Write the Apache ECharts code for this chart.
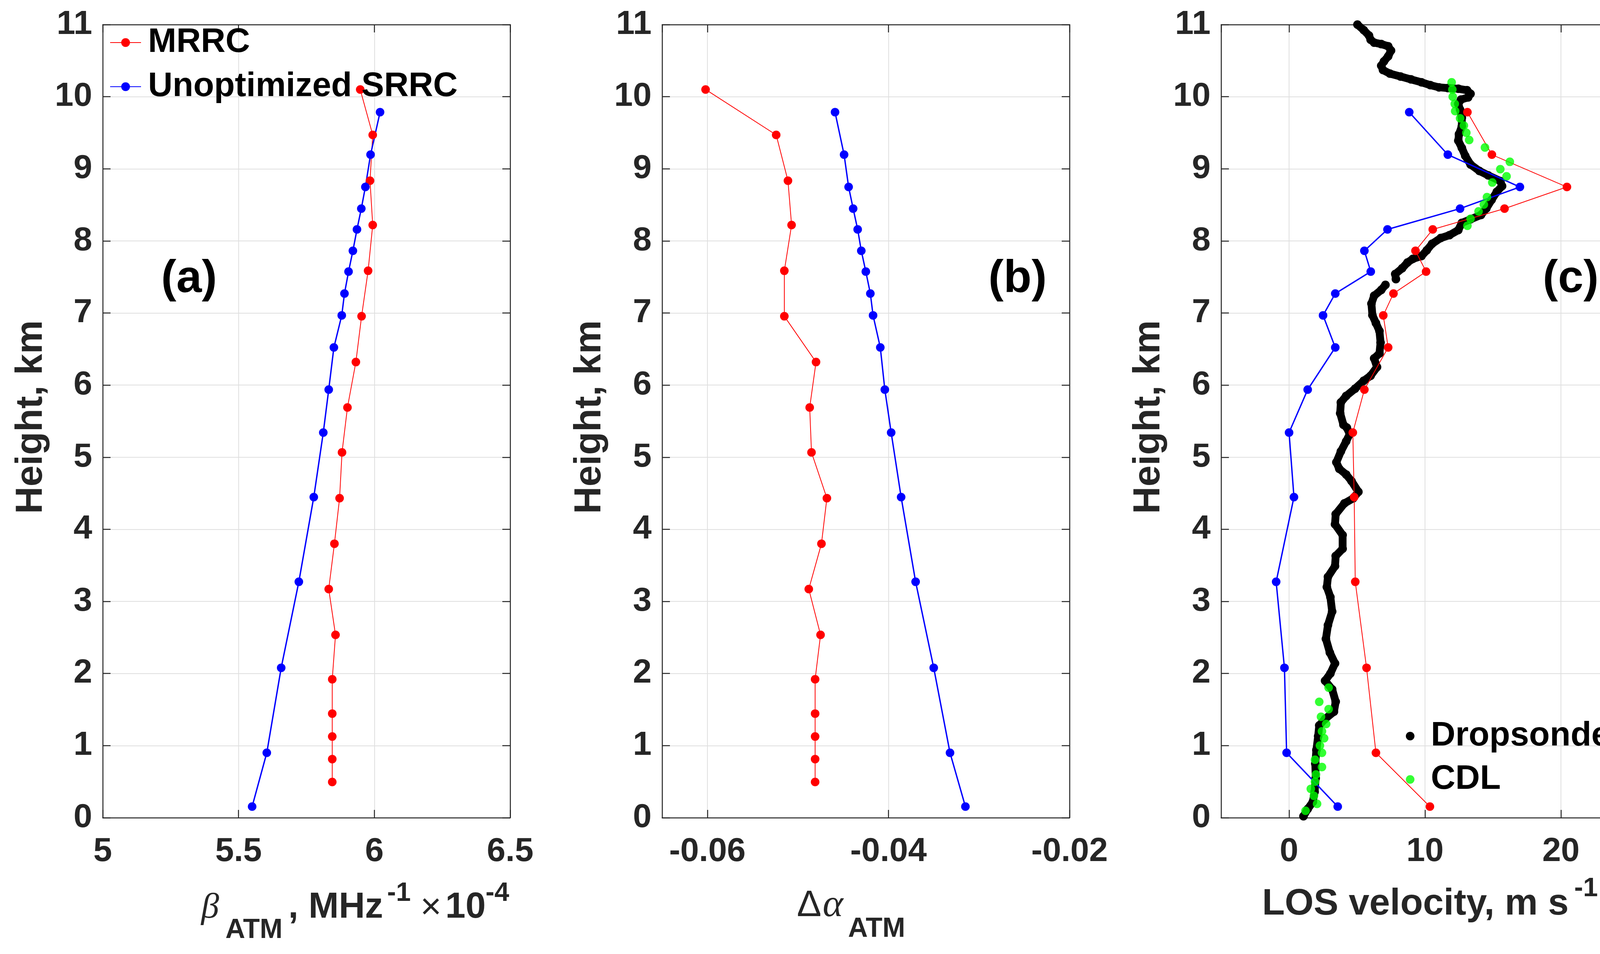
<!DOCTYPE html>
<html>
<head>
<meta charset="utf-8">
<script src="https://cdn.jsdelivr.net/npm/echarts@6/dist/echarts.min.js"></script>
<style>
html,body{margin:0;padding:0;background:#fff;}
#chart{width:4207px;height:2443px;}
</style>
</head>
<body>
<div id="chart"></div>
<script>
// ---------------- DATA ----------------
// Panel (a)/(b) MRRC heights (km)
const hMRRC = [10.10, 9.47, 8.835, 8.22, 7.586, 6.955, 6.32, 5.69, 5.067, 4.432, 3.80, 3.171, 2.536, 1.92, 1.444, 1.126, 0.813, 0.496];
const betaMRRC = [5.948, 5.994, 5.984, 5.994, 5.977, 5.953, 5.932, 5.901, 5.881, 5.872, 5.853, 5.832, 5.857, 5.845, 5.845, 5.845, 5.845, 5.845];
const alphaMRRC = [-0.0602, -0.0524, -0.0511, -0.0507, -0.0515, -0.0515, -0.0480, -0.0487, -0.0485, -0.0468, -0.0474, -0.0488, -0.0475, -0.0481, -0.0481, -0.0481, -0.0481, -0.0481];

// SRRC heights (km), also used for panel (c) retrievals
const hSRRC = [9.785, 9.196, 8.748, 8.448, 8.159, 7.863, 7.574, 7.27, 6.967, 6.522, 5.937, 5.342, 4.447, 3.272, 2.079, 0.90, 0.154];
const betaSRRC = [6.021, 5.986, 5.967, 5.952, 5.936, 5.921, 5.905, 5.890, 5.880, 5.851, 5.832, 5.812, 5.777, 5.722, 5.657, 5.604, 5.550];
const alphaSRRC = [-0.0459, -0.0449, -0.0444, -0.0439, -0.0434, -0.0430, -0.0425, -0.0420, -0.0417, -0.0409, -0.0404, -0.0397, -0.0386, -0.0370, -0.0350, -0.0332, -0.0315];

// Panel (c) LOS velocity (m/s)
const losMRRC = [13.12, 14.92, 20.44, 15.85, 10.57, 9.30, 10.08, 7.68, 6.93, 7.29, 5.54, 4.69, 4.79, 4.87, 5.70, 6.39, 10.36];
const losSRRC = [8.84, 11.68, 16.98, 12.58, 7.24, 5.54, 6.01, 3.40, 2.50, 3.40, 1.37, 0.00, 0.36, -0.95, -0.34, -0.18, 3.58];

const cdlH = [10.20, 10.10, 10.00, 9.90, 9.80, 9.70, 9.60, 9.50, 9.40, 9.295, 9.097, 8.995, 8.896, 8.81, 8.607, 8.505, 8.41, 8.307, 8.21,
              1.804, 1.607, 1.506, 1.40, 1.30, 1.198, 1.102, 1.00, 0.90, 0.804, 0.703, 0.60, 0.50, 0.40, 0.303, 0.192, 0.096];
const cdlV = [11.96, 12.01, 12.04, 12.19, 12.22, 12.58, 12.86, 13.04, 13.25, 14.41, 16.24, 15.54, 16.00, 14.95, 14.56, 14.33, 13.94, 13.35, 13.12,
              2.91, 2.22, 2.91, 2.35, 2.73, 2.42, 2.58, 2.27, 2.42, 1.91, 2.42, 1.98, 1.91, 1.60, 1.83, 2.06, 1.21];

// Dropsonde profile (null = gap in the record)
const dsH = [11.0, 10.924, 10.848, 10.79, 10.75, 10.73, 10.70, 10.64, 10.56, 10.49, 10.43, 10.37, 10.32, 10.28, 10.24, 10.20, 10.16, 10.13, 10.12, 10.11,
  10.09, 10.04, 9.99, 9.96, 9.90, 9.82, 9.71, 9.59, 9.48, 9.39, 9.29, 9.18, 9.06, 8.97, 8.91, 8.83, 8.76, 8.68, 8.57, 8.45,
  8.36, 8.30, 8.25, 8.15, 8.08, 8.04, 7.96, 7.87, 7.79, 7.75, 7.70, 7.62, 7.54, 7.47, null,
  7.39, 7.32, 7.24, 7.13, 6.97, 6.86, 6.75, 6.59, 6.44, 6.37, 6.25, 6.13, 6.06, 5.95, 5.85, 5.76, 5.61, 5.45,
  5.41, 5.32, 5.22, 5.08, 4.93, 4.84, 4.76, 4.67, 4.52, 4.43, 4.36, 4.21, 4.07, 3.92, 3.73, 3.63, 3.49, 3.34, 3.20, 3.06,
  2.86, 2.67, 2.48, 2.29, 2.14, 2.00, 1.90, 1.78, 1.61, 1.47, 1.37, 1.28, 1.13, 0.94, 0.75, 0.55, 0.36, 0.22, 0.12, 0.02];
const dsV = [5.03, 5.49, 5.88, 6.00, 6.26, 6.78, 7.29, 7.50, 7.29, 6.98, 6.78, 6.91, 7.42, 8.20, 8.97, 9.74, 10.39, 11.03, 11.68, 12.45,
  13.09, 13.35, 13.17, 12.65, 12.45, 12.58, 12.71, 12.71, 12.50, 12.45, 12.71, 12.96, 13.35, 14.00, 14.64, 15.54, 15.67, 15.28, 14.90, 14.51,
  14.12, 13.35, 12.71, 12.45, 11.80, 11.16, 10.52, 10.13, 9.74, 9.10, 8.71, 8.32, 7.81, 7.86, null,
  7.09, 6.78, 6.26, 6.06, 6.13, 6.39, 6.65, 6.73, 6.65, 6.26, 6.47, 6.00, 5.49, 4.85, 4.20, 3.81, 3.76, 4.00,
  4.25, 4.46, 4.20, 3.81, 3.48, 3.69, 4.20, 4.59, 5.10, 4.72, 4.07, 3.43, 3.38, 3.94, 3.94, 3.43, 3.38, 2.86, 2.78, 3.04,
  3.17, 2.86, 2.71, 3.00, 3.38, 3.04, 2.65, 3.17, 3.43, 3.30, 2.65, 2.22, 2.14, 2.01, 1.93, 1.96, 1.88, 1.75, 1.37, 1.06];

// Axis tick settings
const heightTicks = {min: 0, max: 11, interval: 1};
const betaRange = {min: 5, max: 6.5, interval: 0.5};
const alphaRange = {min: -0.065, max: -0.02, step: 0.02};
const losRange = {min: -5, max: 25, step: 10};

const panelLabels = ['(a)', '(b)', '(c)'];
const legendA = ['MRRC', 'Unoptimized SRRC'];
const legendC = ['Dropsonde', 'CDL'];

// ---------------- STYLE ----------------
const FONT = '"Liberation Sans", Arial, Helvetica, sans-serif';
const SERIF = '"Liberation Serif", "DejaVu Serif", serif';
const AX = '#262626';
const GRIDC = '#dfdfdf';
const grids = [
  {left: 263, top: 63, width: 1043, height: 2031},
  {left: 1695, top: 63, width: 1043, height: 2031},
  {left: 3126, top: 63, width: 1044, height: 2031}
];

function zip(xs, ys) { return xs.map((x, i) => (x === null || ys[i] === null) ? [null, null] : [x, ys[i]]); }

const lineAx = {show: true, onZero: false, lineStyle: {color: AX, width: 2.5}};
const tickAx = {show: true, inside: true, length: 20, lineStyle: {color: AX, width: 2.5}};
const labAx = {fontSize: 86, fontWeight: 'bold', fontFamily: FONT, color: AX};

const xAxes = [], yAxes = [];
const xr = [betaRange, alphaRange, losRange];
xr.forEach((r, i) => {
  const base = {type: 'value', gridIndex: i, min: r.min, max: r.max};
  if (r.interval) base.interval = r.interval; else { base.minInterval = r.step; base.maxInterval = r.step; base.splitNumber = 3; }
  xAxes.push(Object.assign({}, base, {
    position: 'bottom', axisLine: lineAx, axisTick: tickAx,
    axisLabel: Object.assign({margin: 44, showMinLabel: !!r.interval, showMaxLabel: i !== 2}, labAx),
    splitLine: {show: true, lineStyle: {color: GRIDC, width: 2}}
  }));
  xAxes.push(Object.assign({}, base, {
    position: 'top', axisLine: lineAx, axisTick: tickAx, axisLabel: {show: false}, splitLine: {show: false}
  }));
  yAxes.push({type: 'value', gridIndex: i, position: 'left', min: heightTicks.min, max: heightTicks.max, interval: heightTicks.interval,
    axisLine: lineAx, axisTick: tickAx, axisLabel: Object.assign({margin: 27}, labAx),
    splitLine: {show: true, lineStyle: {color: GRIDC, width: 2}}});
  yAxes.push({type: 'value', gridIndex: i, position: 'right', min: heightTicks.min, max: heightTicks.max, interval: heightTicks.interval,
    axisLine: lineAx, axisTick: tickAx, axisLabel: {show: false}, splitLine: {show: false}});
});

function lineSeries(name, gi, data, color, width) {
  return {name, type: 'line', xAxisIndex: gi * 2, yAxisIndex: gi * 2, data,
    color, symbol: 'circle', symbolSize: 22, showSymbol: true, showAllSymbol: true,
    lineStyle: {color, width}, itemStyle: {color, borderWidth: 0},
    emphasis: {disabled: true}, z: 3};
}

const series = [
  lineSeries('MRRC', 0, zip(betaMRRC, hMRRC), '#ff0000', 2),
  lineSeries('Unoptimized SRRC', 0, zip(betaSRRC, hSRRC), '#0000ff', 3.5),
  lineSeries('MRRC', 1, zip(alphaMRRC, hMRRC), '#ff0000', 2),
  lineSeries('Unoptimized SRRC', 1, zip(alphaSRRC, hSRRC), '#0000ff', 3.5),
  {name: 'Dropsonde', type: 'line', xAxisIndex: 4, yAxisIndex: 4, data: zip(dsV, dsH), color: '#000',
    symbol: 'circle', symbolSize: 22, showSymbol: true, showAllSymbol: true, connectNulls: false,
    lineStyle: {color: '#000', width: 20, cap: 'round', join: 'round'}, itemStyle: {color: '#000', borderWidth: 0},
    emphasis: {disabled: true}, z: 2},
  {name: 'CDL', type: 'scatter', xAxisIndex: 4, yAxisIndex: 4, data: zip(cdlV, cdlH), color: '#00ff00',
    symbol: 'circle', symbolSize: 22, itemStyle: {color: '#00ff00', borderWidth: 0}, emphasis: {disabled: true}, z: 3},
  lineSeries('MRRC', 2, zip(losMRRC, hSRRC), '#ff0000', 2),
  lineSeries('Unoptimized SRRC', 2, zip(losSRRC, hSRRC), '#0000ff', 3.5)
];

function txt(x, y, text, font, opts) {
  return Object.assign({type: 'text', x, y, silent: true, z: 100,
    style: Object.assign({text, font, fill: AX, align: 'left', verticalAlign: 'middle'}, opts || {})});
}
const B = 'bold ';
const graphic = [
  // panel letters
  txt(484, 716, panelLabels[0], B + '117px ' + FONT, {fill: '#000', align: 'center'}),
  txt(2605, 716, panelLabels[1], B + '117px ' + FONT, {fill: '#000', align: 'center'}),
  txt(4021, 716, panelLabels[2], B + '117px ' + FONT, {fill: '#000', align: 'center'}),
  // y titles
  Object.assign(txt(80, 1068, 'Height, km', B + '97px ' + FONT, {align: 'center'}), {rotation: Math.PI / 2}),
  Object.assign(txt(1510, 1068, 'Height, km', B + '97px ' + FONT, {align: 'center'}), {rotation: Math.PI / 2}),
  Object.assign(txt(2941, 1068, 'Height, km', B + '97px ' + FONT, {align: 'center'}), {rotation: Math.PI / 2}),
  // (a) x title: beta_ATM, MHz^-1 x10^-4
  txt(515, 2326, 'β', 'italic 92px ' + SERIF),
  txt(577, 2383, 'ATM', B + '70px ' + FONT),
  txt(738, 2324, ', MHz', B + '93px ' + FONT),
  txt(991, 2288, '-1', B + '68px ' + FONT),
  txt(1076, 2326, '×', '93px ' + FONT),
  txt(1140, 2324, '10', B + '93px ' + FONT),
  txt(1243, 2288, '-4', B + '68px ' + FONT),
  // (b) x title: Delta alpha_ATM
  txt(2040, 2320, 'Δ', '94px ' + FONT),
  txt(2106, 2320, 'α', 'italic 100px ' + SERIF),
  txt(2171, 2380, 'ATM', B + '70px ' + FONT),
  // (c) x title
  txt(3231, 2316, 'LOS velocity, m s', B + '95px ' + FONT),
  txt(4030, 2276, '-1', B + '68px ' + FONT)
];

const legendText = {fontSize: 87, fontWeight: 'bold', fontFamily: FONT, color: '#000', lineHeight: 90};
const option = {
  animation: false,
  backgroundColor: '#fff',
  grid: grids,
  xAxis: xAxes,
  yAxis: yAxes,
  legend: [
    {data: legendA, orient: 'vertical', left: 281, top: 64, padding: 0, itemWidth: 79, itemHeight: 28, itemGap: 23,
      selectedMode: false, textStyle: Object.assign({padding: [0, 0, 0, 13]}, legendText)},
    {data: legendC.map(n => ({name: n, icon: 'circle'})), orient: 'vertical', left: 3599, top: 1840, padding: 0,
      itemWidth: 22, itemHeight: 22, itemGap: 21, selectedMode: false, itemStyle: {borderWidth: 0},
      textStyle: Object.assign({padding: [0, 0, 0, 37]}, legendText)}
  ],
  series,
  graphic
};
const chart = echarts.init(document.getElementById('chart'), null, {renderer: 'canvas'});
chart.setOption(option);
</script>
</body>
</html>
